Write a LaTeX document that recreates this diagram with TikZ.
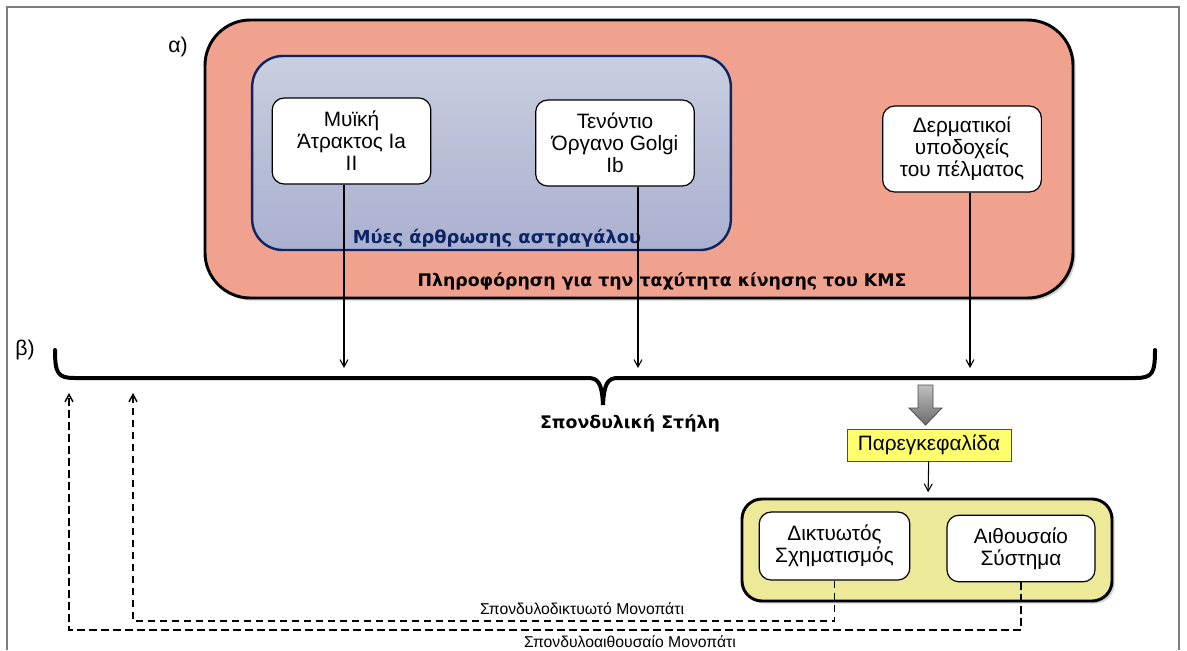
\documentclass[tikz,border=0pt]{standalone}
\usepackage{fontspec}
\setmainfont{Liberation Sans}
\newfontfamily\heavyfont{DejaVu Sans}
\usetikzlibrary{arrows.meta,shadows}
\definecolor{salmonFill}{RGB}{240,162,143}
\definecolor{blueTop}{RGB}{201,206,223}
\definecolor{blueBottom}{RGB}{170,176,208}
\definecolor{navyLine}{RGB}{12,36,100}
\definecolor{lemonFill}{RGB}{255,255,110}
\definecolor{oliveFill}{RGB}{236,234,152}
\definecolor{frameGray}{RGB}{125,125,125}
\tikzstyle{whiteBox}=[shape = rectangle, rounded corners = 9pt, draw, fill = white, line width = 0.9pt, minimum width = 119pt, minimum height = 64.5pt, align = center, inner sep = 1pt, font = \fontsize{15.6}{16.5}\selectfont]
\tikzstyle{bigBox}=[shape = rectangle, draw, line width = 2.2pt, drop shadow = {shadow xshift = 2pt, shadow yshift = -2pt, opacity = 0.35}]
\tikzstyle{boldLabel}=[font = \heavyfont\bfseries\fontsize{13}{15}\selectfont, inner sep = 1pt]
\tikzstyle{pathLabel}=[font = \fontsize{11.8}{13}\selectfont, inner sep = 1pt]

\begin{document}
\begin{tikzpicture}[x = 0.75pt, y = -0.75pt]
\tikzstyle{thinArrow} = [-{Straight Barb[length = 5.5pt, width = 6pt]}, line width = 0.8pt]
\tikzstyle{dashArrow} = [-{Straight Barb[length = 5.5pt, width = 6pt]}, line width = 1.1pt, dash pattern = on 5.5pt off 3.5pt]
\useasboundingbox (0,0) rectangle (1187,650);
% frame
\draw[frameGray, line width = 1.2pt] (7,650) -- (7,7) -- (1179,7) -- (1179,650);
% a) part
\node[font = \fontsize{16}{18}\selectfont] (partA) at (178,47) {α)};
\node[bigBox, fill = salmonFill, rounded corners = 34pt, minimum width = 651pt, minimum height = 208.5pt] (info) at (639,159) {};
\node[shape = rectangle, draw = navyLine, line width = 1.8pt, rounded corners = 23pt, top color = blueTop, bottom color = blueBottom, minimum width = 359pt, minimum height = 145.5pt] (ankle) at (491.5,153) {};
\node[boldLabel, text = navyLine, font = \heavyfont\bfseries\fontsize{13.4}{15}\selectfont] (ankleLabel) at (497,238) {Μύες άρθρωσης αστραγάλου};
\node[boldLabel] (infoLabel) at (662,281) {Πληροφόρηση για την ταχύτητα κίνησης του ΚΜΣ};
\node[whiteBox] (spindle) at (351.5,141) {Μυϊκή\\Άτρακτος Ia\\II};
\node[whiteBox] (golgi) at (615,143) {Τενόντιο\\Όργανο Golgi\\Ib};
\node[whiteBox] (skin) at (962,149) {Δερματικοί\\υποδοχείς\\του πέλματος};
% b) part
\node[font = \fontsize{16}{18}\selectfont] (partB) at (25,350) {β)};
\draw[line width = 3pt, line cap = round] (55,350) .. controls (55,374) and (58,378) .. (75,378) -- (588,378) .. controls (598,378) and (602,383) .. (603,405) .. controls (604,383) and (608,378) .. (618,378) -- (1135,378) .. controls (1152,378) and (1155,374) .. (1155,350);
\node[boldLabel] (spine) at (630,423) {Σπονδυλική Στήλη};
\coordinate (in1) at (344,368);
\coordinate (in2) at (638,368);
\coordinate (in3) at (970,368);
\draw[thinArrow] (in1 |- spindle.south) -- (in1);
\draw[thinArrow] (in2 |- golgi.south) -- (in2);
\draw[thinArrow] (in3 |- skin.south) -- (in3);
\draw[draw = gray!60!black, line width = 0.6pt, top color = gray!50, bottom color = gray!85!black] (918,385) -- (933,385) -- (933,408) -- (942,408) -- (925.5,425) -- (909,408) -- (918,408) -- cycle;
\node[shape = rectangle, draw = gray!60!black, line width = 0.7pt, fill = lemonFill, minimum width = 123pt, minimum height = 24pt, font = \fontsize{15.6}{17}\selectfont] (cereb) at (929,445) {Παρεγκεφαλίδα};
\node[bigBox, fill = oliveFill, rounded corners = 15pt, minimum width = 277.5pt, minimum height = 76.5pt] (motor) at (927,550) {};
\node[whiteBox, minimum width = 113pt, minimum height = 51pt] (reticular) at (834.5,546) {Δικτυωτός\\Σχηματισμός};
\node[whiteBox, minimum width = 111pt, minimum height = 50pt] (vestibular) at (1021,548.5) {Αιθουσαίο\\Σύστημα};
\draw[thinArrow, shorten > = 4pt] (cereb) -- (motor);
\coordinate (up1) at (133,393);
\coordinate (low1) at (133,621);
\coordinate (up2) at (69,393);
\coordinate (low2) at (69,630);
\draw[dashArrow] (reticular.south) |- (low1) -- (up1);
\draw[dashArrow] (vestibular.south) |- (low2) -- (up2);
\node[pathLabel] (retPath) at (582,609) {Σπονδυλοδικτυωτό Μονοπάτι};
\node[pathLabel] (vestPath) at (630,642) {Σπονδυλοαιθουσαίο Μονοπάτι};
\end{tikzpicture}
\end{document}
